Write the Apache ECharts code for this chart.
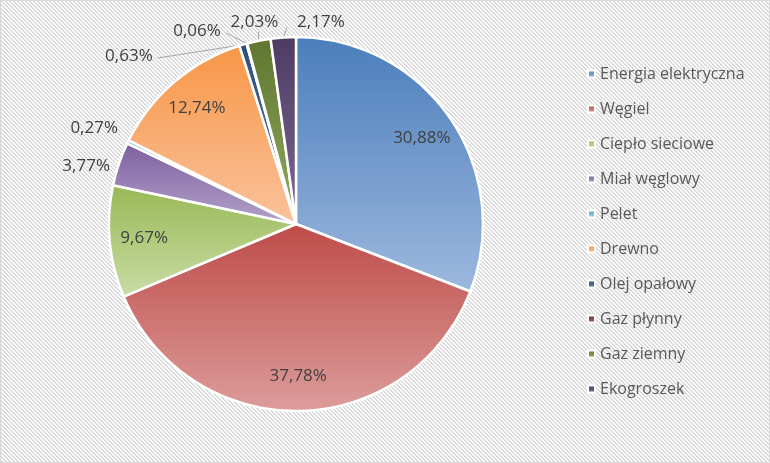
<!DOCTYPE html>
<html><head><meta charset="utf-8">
<script src="https://cdn.jsdelivr.net/npm/echarts@6/dist/echarts.min.js"></script>
<style>html,body{margin:0;padding:0;background:#fff}#c{width:770px;height:463px}</style>
</head><body><div id="c"></div>
<script>
const categories = ['Energia elektryczna','Węgiel','Ciepło sieciowe','Miał węglowy','Pelet','Drewno','Olej opałowy','Gaz płynny','Gaz ziemny','Ekogroszek'];
const shares = [30.88, 37.78, 9.67, 3.77, 0.27, 12.74, 0.63, 0.06, 2.03, 2.17];

// styling (not data)
const topColors = ['#4A7EBB','#BE4B48','#98B954','#7D60A0','#4BACC6','#F79646','#2C4D75','#772C2A','#5F7530','#4D3B62'];
const bottomColors = ['#9DB8DE','#DC9D9B','#C9DCA6','#B3A2C9','#A5D5E2','#FAC29C','#6083B0','#A56664','#93AB62','#7D6A95'];
const labelNudge = {3:[-4,2], 4:[-5,-14], 6:[-77,19], 7:[-13,-5], 8:[32,-11], 9:[73,-7]};
const leaderEnd = {6:'right', 7:'right', 8:'bottom', 9:'bottomLeft'};
const noLeader = {3:true, 4:true};

const fmt = v => v.toFixed(2).replace('.', ',') + '%';
const grad = i => new echarts.graphic.LinearGradient(0,0,0,1,[{offset:0,color:topColors[i]},{offset:1,color:bottomColors[i]}]);

// hatch background
const tile = document.createElement('canvas');
tile.width = 4; tile.height = 4;
const tc = tile.getContext('2d');
tc.fillStyle = '#ffffff'; tc.fillRect(0,0,4,4);
tc.fillStyle = '#D9D9D9';
for (let i = 0; i < 4; i++) { tc.fillRect(i, i, 1, 1); tc.fillRect((i+1)%4, i, 1, 1); }

const INNER = v => v > 5;
const font = '"Open Sans", "Noto Sans", sans-serif';

const mainData = categories.map((n, i) => ({
  name: n, value: shares[i],
  itemStyle: { color: grad(i) },
  label: { show: !INNER(shares[i]) },
  labelLine: noLeader[i] ? { show: false, length: 0, length2: 0 } : { show: !INNER(shares[i]) }
}));
const overlayData = categories.map((n, i) => ({
  name: n, value: shares[i],
  label: { show: INNER(shares[i]) }
}));

function layoutLabel(p) {
  const n = labelNudge[p.dataIndex];
  if (!n) return {};
  const out = { dx: n[0], dy: n[1] };
  const side = leaderEnd[p.dataIndex];
  if (side && p.labelLinePoints && p.labelRect) {
    const a = p.labelLinePoints[0];
    const r = p.labelRect;
    const cx = r.x + r.width / 2 + n[0], cy = r.y + r.height / 2 + n[1];
    const w = r.width;
    let e;
    if (side === 'right') e = [cx + w / 2 + 5, cy + 2];
    else if (side === 'bottom') e = [cx + 4, cy + 10];
    else e = [cx - w / 2 - 10, cy + 5];
    out.labelLinePoints = [[a[0], a[1]], e];
  }
  return out;
}

const chart = echarts.init(document.getElementById('c'), null, {renderer:'canvas'});
chart.setOption({
  backgroundColor: { image: tile, repeat: 'repeat' },
  animation: false,
  legend: {
    orient: 'vertical', left: 582, top: 61,
    itemWidth: 7, itemHeight: 7, itemGap: 19, icon: 'rect',
    textStyle: { color: '#595959', fontSize: 16, fontFamily: font, lineHeight: 16 },
    data: categories
  },
  graphic: [{ type: 'rect', shape: { x: 0.5, y: 0.5, width: 769, height: 462 }, style: { fill: 'none', stroke: '#D9D9D9', lineWidth: 1 }, silent: true }],
  series: [{
    type: 'pie', center: [296, 224], radius: [0, 187], startAngle: 90, clockwise: true,
    avoidLabelOverlap: false,
    itemStyle: { borderColor: '#fff', borderWidth: 2.5 },
    label: { position: 'outside', formatter: p => fmt(p.value), color: '#404040', fontSize: 17, fontFamily: font },
    labelLine: { length: 8, length2: 6, lineStyle: { color: '#A6A6A6', width: 1 } },
    labelLayout: layoutLabel,
    emphasis: { disabled: true },
    data: mainData
  }, {
    type: 'pie', center: [296, 224], radius: [112, 187], startAngle: 90, clockwise: true,
    silent: true, legendHoverLink: false,
    itemStyle: { color: 'rgba(0,0,0,0)', borderWidth: 0 },
    label: { position: 'inside', formatter: p => fmt(p.value), color: '#404040', fontSize: 17, fontFamily: font },
    labelLine: { show: false },
    emphasis: { disabled: true },
    data: overlayData
  }]
});
</script></body></html>
